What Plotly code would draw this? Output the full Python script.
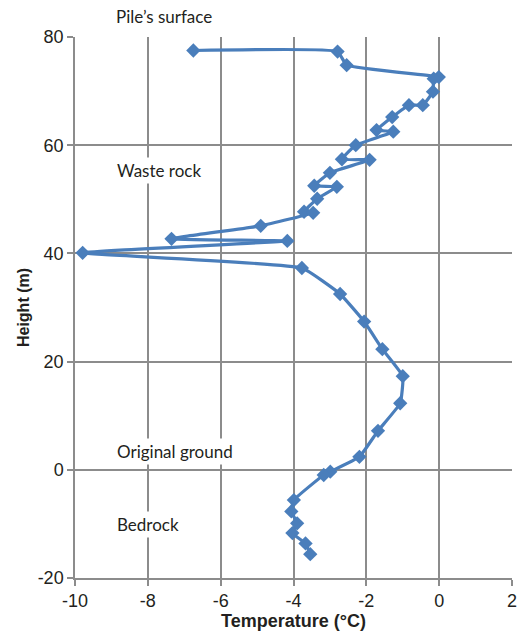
import plotly.graph_objects as go

temperature = [-6.75, -2.79, -2.54, -0.01, -0.15, -0.17, -0.45, -0.83, -1.29, -1.72,
               -1.26, -2.29, -2.67, -1.91, -3.00, -3.43, -2.81, -3.35, -3.71, -3.46,
               -4.90, -7.35, -4.17, -9.79, -3.77, -2.72, -2.06, -1.56, -1.00, -1.07,
               -1.68, -2.19, -2.99, -3.17, -3.99, -4.06, -3.90, -4.03, -3.67, -3.54]
height = [77.5, 77.3, 74.8, 72.6, 72.3, 69.9, 67.4, 67.4, 65.2, 62.8,
          62.5, 60.0, 57.4, 57.3, 54.9, 52.5, 52.3, 50.1, 47.7, 47.5,
          45.1, 42.7, 42.3, 40.1, 37.3, 32.5, 27.4, 22.3, 17.3, 12.3,
          7.2, 2.4, -0.35, -0.96, -5.6, -7.7, -9.9, -11.7, -13.6, -15.6]

labels = ["Waste rock", "Original ground", "Bedrock"]
label_y = [55.3, 3.3, -10.2]
top_label = "Pile\u2019s surface"

x_ticks = [-10, -8, -6, -4, -2, 0, 2]
y_ticks = [-20, 0, 20, 40, 60, 80]

color = "#4a7ebb"
grid = "#8c8c8c"
txt = "#231f20"
ann_font = dict(family="Lato, Open Sans, Arial", size=17, color=txt)

fig = go.Figure()
fig.add_trace(go.Scatter(
    x=temperature, y=height, mode="lines+markers",
    line=dict(color=color, width=3.2, shape="spline", smoothing=0.35),
    marker=dict(symbol="diamond", size=11, color=color),
    cliponaxis=False, showlegend=False,
))

for t, yv in zip(labels, label_y):
    fig.add_annotation(
        x=-8.92, y=yv, text=t, showarrow=False, xanchor="left", yanchor="middle",
        font=ann_font, bgcolor="white", borderpad=2,
    )
fig.add_annotation(
    x=-8.92, xref="x", y=1.037, yref="paper", text=top_label, showarrow=False,
    xanchor="left", yanchor="middle", font=ann_font,
)

axis_common = dict(
    showgrid=True, gridcolor=grid, gridwidth=1.5,
    showline=True, linecolor=grid, linewidth=1.5,
    ticks="outside", ticklen=6, tickcolor=grid, tickwidth=1.5,
    zeroline=False, ticklabeloverflow="allow",
    tickfont=dict(family="Arial", size=18, color=txt),
)

fig.update_layout(
    width=522, height=634,
    margin=dict(l=75, r=5, t=37, b=56),
    paper_bgcolor="white", plot_bgcolor="white",
    xaxis=dict(range=[-10, 2], tickvals=x_ticks, ticktext=[str(v) for v in x_ticks],
               title=dict(text="<b>Temperature (°C)</b>", standoff=4,
                          font=dict(family="Arial", size=18, color=txt)),
               **axis_common),
    yaxis=dict(range=[-20, 80], tickvals=y_ticks, ticktext=[str(v) for v in y_ticks],
               title=dict(text="<b>Height (m)</b>", standoff=4,
                          font=dict(family="Arial", size=16, color=txt)),
               **axis_common),
)

fig.write_html("out.html")
